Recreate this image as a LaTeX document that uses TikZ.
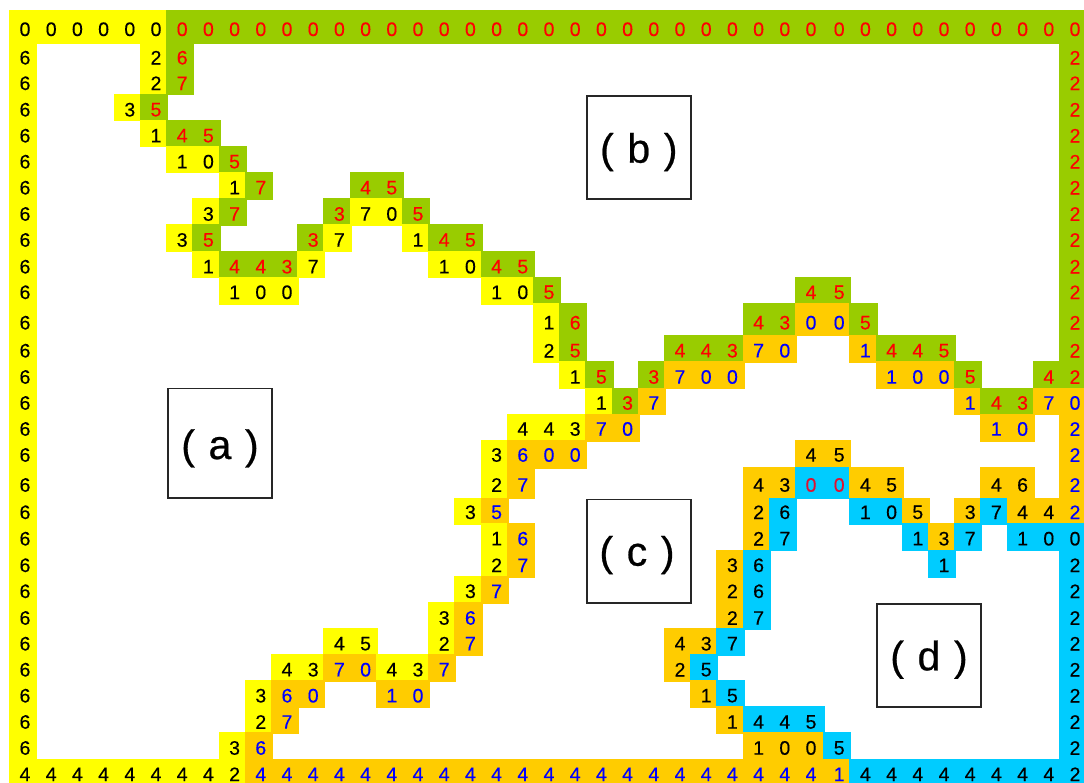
\documentclass[tikz,border=0pt]{standalone}
\usepackage{fontspec}
\setmainfont{Liberation Sans}
\newfontfamily\digitface[FakeBold=0.35]{Liberation Sans}
\newfontfamily\labelface[FakeBold=0.6,WordSpace=1.2]{Liberation Sans}
\definecolor{fillY}{HTML}{FFFF00}\definecolor{textY}{HTML}{000000}
\definecolor{fillG}{HTML}{99CC00}\definecolor{textG}{HTML}{FF0000}
\definecolor{fillO}{HTML}{FFCC00}\definecolor{textO}{HTML}{0000FF}
\definecolor{fillK}{HTML}{FFCC00}\definecolor{textK}{HTML}{000000}
\definecolor{fillC}{HTML}{00CCFF}\definecolor{textC}{HTML}{000000}
\definecolor{fillD}{HTML}{00CCFF}\definecolor{textD}{HTML}{E01030}
\def\tops{{10,42.5,67.3,93.7,120,146,172,198.5,224.5,251,277,303.3,335,361.3,387.5,413.7,440,467.3,497.7,523,549.5,576,602,628,654,680,706,732,758.7,781.5}}
\def\mids{{29.3,57.7,83.3,109.7,135.7,161.7,187.7,214,240,266.7,292.3,322.7,350.7,377,403,429,455,485,512.3,538.7,565.3,591.3,618,643.7,669.7,695.7,722,748,774.3}}
\tikzset{
  digit/.style={inner sep=0pt,font=\digitface\fontsize{19.5}{20}\selectfont},
  labelbox/.style={draw=black!85,line width=1.7pt,inner sep=0pt,outer sep=0pt},
  labeltext/.style={inner sep=0pt,anchor=base,font=\labelface\fontsize{41}{44}\selectfont}
}
% one cell: row, column, kind, digit
\newcommand\onecell[4]{%
  \pgfmathsetmacro\cx{25+26.2*#2+(#2>30?2:0)}%
  \pgfmathsetmacro\cr{25+26.2*(#2+1)+((#2+1)>30?2:0)-14}%
  \pgfmathsetmacro\ct{\tops[#1]}%
  \pgfmathsetmacro\cb{\tops[#1+1]+1.5}%
  \pgfmathsetmacro\cm{\mids[#1]}%
  \fill[fill#3] (\cx-16,\ct) rectangle (\cr,\cb);
  \node[digit,text=text#3] (cell-#1-#2) at (\cx,\cm) {#4};
}
% run of cells: row, first column, kind, digits
\newcommand\crun[4]{%
  \foreach \dg [count=\n from #2] in {#4} {\onecell{#1}{\n}{#3}{\dg}}%
}
\begin{document}
\begin{tikzpicture}[x=1pt,y=-1pt]
\useasboundingbox (0,0) rectangle (1084,783);
\clip (0,0) rectangle (1084,783);
% row 0
\crun{0}{0}{Y}{0,0,0,0,0,0}
\crun{0}{6}{G}{0,0,0,0,0,0,0,0,0,0,0,0,0,0,0,0,0,0,0,0,0,0,0,0,0,0,0,0,0,0,0,0,0,0,0}
% rows 1-27, left side
\foreach \r in {1,...,27} {\onecell{\r}{0}{Y}{6}}
% right side
\foreach \r in {1,...,13} {\onecell{\r}{40}{G}{2}}
\onecell{14}{40}{O}{0}
\foreach \r in {15,...,18} {\onecell{\r}{40}{O}{2}}
\onecell{19}{40}{C}{0}
\foreach \r in {20,...,27} {\onecell{\r}{40}{C}{2}}
% interior rows
\crun{1}{5}{Y}{2}\crun{1}{6}{G}{6}
\crun{2}{5}{Y}{2}\crun{2}{6}{G}{7}
\crun{3}{4}{Y}{3}\crun{3}{5}{G}{5}
\crun{4}{5}{Y}{1}\crun{4}{6}{G}{4,5}
\crun{5}{6}{Y}{1,0}\crun{5}{8}{G}{5}
\crun{6}{8}{Y}{1}\crun{6}{9}{G}{7}\crun{6}{13}{G}{4,5}
\crun{7}{7}{Y}{3}\crun{7}{8}{G}{7}\crun{7}{12}{G}{3}\crun{7}{13}{Y}{7,0}\crun{7}{15}{G}{5}
\crun{8}{6}{Y}{3}\crun{8}{7}{G}{5}\crun{8}{11}{G}{3}\crun{8}{12}{Y}{7}\crun{8}{15}{Y}{1}\crun{8}{16}{G}{4,5}
\crun{9}{7}{Y}{1}\crun{9}{8}{G}{4,4,3}\crun{9}{11}{Y}{7}\crun{9}{16}{Y}{1,0}\crun{9}{18}{G}{4,5}
\crun{10}{8}{Y}{1,0,0}\crun{10}{18}{Y}{1,0}\crun{10}{20}{G}{5}\crun{10}{30}{G}{4,5}
\crun{11}{20}{Y}{1}\crun{11}{21}{G}{6}\crun{11}{28}{G}{4,3}\crun{11}{30}{O}{0,0}\crun{11}{32}{G}{5}
\crun{12}{20}{Y}{2}\crun{12}{21}{G}{5}\crun{12}{25}{G}{4,4,3}\crun{12}{28}{O}{7,0}\crun{12}{32}{O}{1}\crun{12}{33}{G}{4,4,5}
\crun{13}{21}{Y}{1}\crun{13}{22}{G}{5}\crun{13}{24}{G}{3}\crun{13}{25}{O}{7,0,0}\crun{13}{33}{O}{1,0,0}\crun{13}{36}{G}{5}\crun{13}{39}{G}{4}
\crun{14}{22}{Y}{1}\crun{14}{23}{G}{3}\crun{14}{24}{O}{7}\crun{14}{36}{O}{1}\crun{14}{37}{G}{4,3}\crun{14}{39}{O}{7}
\crun{15}{19}{Y}{4,4,3}\crun{15}{22}{O}{7,0}\crun{15}{37}{O}{1,0}
\crun{16}{18}{Y}{3}\crun{16}{19}{O}{6,0,0}\crun{16}{30}{K}{4,5}
\crun{17}{18}{Y}{2}\crun{17}{19}{O}{7}\crun{17}{28}{K}{4,3}\crun{17}{30}{D}{0,0}\crun{17}{32}{K}{4,5}\crun{17}{37}{K}{4,6}
\crun{18}{17}{Y}{3}\crun{18}{18}{O}{5}\crun{18}{28}{K}{2}\crun{18}{29}{C}{6}\crun{18}{32}{C}{1,0}\crun{18}{34}{K}{5}\crun{18}{36}{K}{3}\crun{18}{37}{C}{7}\crun{18}{38}{K}{4,4}
\crun{19}{18}{Y}{1}\crun{19}{19}{O}{6}\crun{19}{28}{K}{2}\crun{19}{29}{C}{7}\crun{19}{34}{C}{1}\crun{19}{35}{K}{3}\crun{19}{36}{C}{7}\crun{19}{38}{C}{1,0}
\crun{20}{18}{Y}{2}\crun{20}{19}{O}{7}\crun{20}{27}{K}{3}\crun{20}{28}{C}{6}\crun{20}{35}{C}{1}
\crun{21}{17}{Y}{3}\crun{21}{18}{O}{7}\crun{21}{27}{K}{2}\crun{21}{28}{C}{6}
\crun{22}{16}{Y}{3}\crun{22}{17}{O}{6}\crun{22}{27}{K}{2}\crun{22}{28}{C}{7}
\crun{23}{12}{Y}{4,5}\crun{23}{16}{Y}{2}\crun{23}{17}{O}{7}\crun{23}{25}{K}{4,3}\crun{23}{27}{C}{7}
\crun{24}{10}{Y}{4,3}\crun{24}{12}{O}{7,0}\crun{24}{14}{Y}{4,3}\crun{24}{16}{O}{7}\crun{24}{25}{K}{2}\crun{24}{26}{C}{5}
\crun{25}{9}{Y}{3}\crun{25}{10}{O}{6,0}\crun{25}{14}{O}{1,0}\crun{25}{26}{K}{1}\crun{25}{27}{C}{5}
\crun{26}{9}{Y}{2}\crun{26}{10}{O}{7}\crun{26}{27}{K}{1}\crun{26}{28}{C}{4,4,5}
\crun{27}{8}{Y}{3}\crun{27}{9}{O}{6}\crun{27}{28}{K}{1,0,0}\crun{27}{31}{C}{5}
% bottom row
\crun{28}{0}{Y}{4,4,4,4,4,4,4,4,2}
\crun{28}{9}{O}{4,4,4,4,4,4,4,4,4,4,4,4,4,4,4,4,4,4,4,4,4,4,1}
\crun{28}{32}{C}{4,4,4,4,4,4,4,4,2}
% region labels
\node[labelbox,minimum width=104pt,minimum height=109.5pt] (boxa) at (219.7,443.3) {};
\node[labeltext] (texta) at (220,459) {( a )};
\node[labelbox,minimum width=104pt,minimum height=103.3pt] (boxb) at (638.8,147.5) {};
\node[labeltext] (textb) at (638.8,162.7) {( b )};
\node[labelbox,minimum width=104pt,minimum height=103.3pt] (boxc) at (638.8,551.2) {};
\node[labeltext] (textc) at (637,565.7) {( c )};
\node[labelbox,minimum width=104pt,minimum height=103.3pt] (boxd) at (928.8,655.5) {};
\node[labeltext] (textd) at (929,670.3) {( d )};
\end{tikzpicture}
\end{document}
